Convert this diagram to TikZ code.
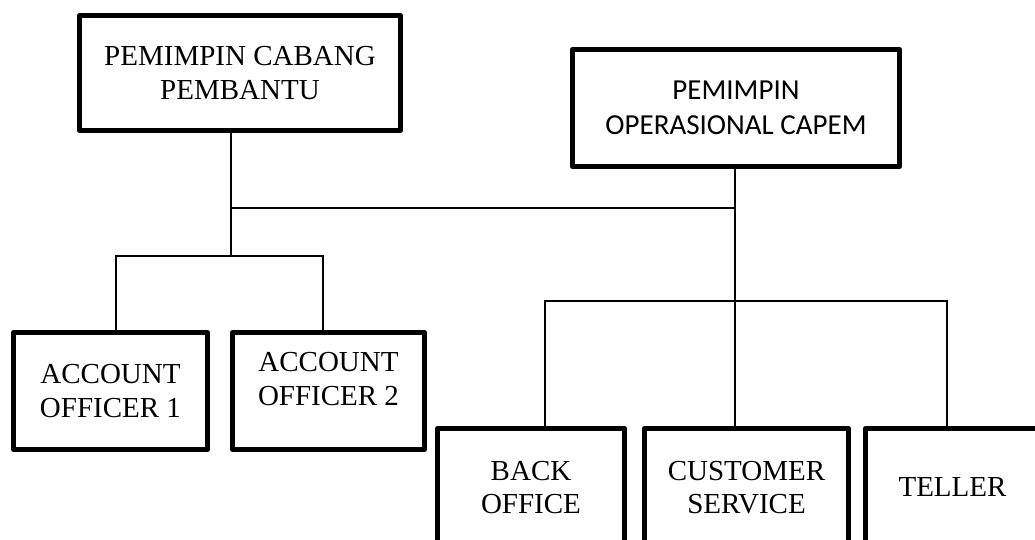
\documentclass[tikz,border=0pt]{standalone}
\usepackage{fontspec}
\setmainfont{Liberation Serif}
\newfontfamily\headsans{Carlito}
\begin{document}
\begin{tikzpicture}[x=1pt,y=-1pt,
  unitbox/.style={draw, line width=5pt, line join=round, rectangle, inner sep=0pt,
    align=center, font=\fontsize{29}{33.5}\selectfont},
  sansbox/.style={unitbox, font=\headsans\fontsize{29}{35}\selectfont},
  link/.style={line width=1.6pt, line join=miter}]
\useasboundingbox (0,0) rectangle (1035,540);
\clip (0,0) rectangle (1035,540);

% junction points of the connectors
\coordinate (j1) at (231,208);
\coordinate (j2) at (735,208);
\coordinate (j3) at (231,256);
\coordinate (k1) at (116,256);
\coordinate (k2) at (323,256);
\coordinate (m1) at (545,301);
\coordinate (m2) at (947,301);

% top level
\node[unitbox, minimum width=321pt, minimum height=115pt] (cab) at (240,73)
  {PEMIMPIN CABANG\\PEMBANTU};
\node[sansbox, minimum width=327pt, minimum height=117pt] (ops) at (736,108)
  {PEMIMPIN\\OPERASIONAL CAPEM};

% account officers
\node[unitbox, minimum width=194pt, minimum height=117pt] (ao1) at (110.5,391)
  {ACCOUNT\\OFFICER 1};
\node[unitbox, minimum width=192pt, minimum height=117pt,
  label={[align=center, font=\fontsize{29}{33.5}\selectfont, yshift=12pt]center:ACCOUNT\\OFFICER 2}]
  (ao2) at (328.5,391) {};

% operational staff
\node[unitbox, minimum width=187pt, minimum height=118pt] (bo) at (531,487.5)
  {BACK\\OFFICE};
\node[unitbox, minimum width=204pt, minimum height=118pt] (cs) at (746.5,487.5)
  {CUSTOMER\\SERVICE};
\node[unitbox, minimum width=174pt, minimum height=118pt] (tel) at (952.5,487.5)
  {TELLER};

% connectors
\draw[link] (cab.south -| j1) -- (j1) -- (j2);
\draw[link] (ops.south -| j2) -- (j2) -- (j2 |- cs.north);
\draw[link] (j1) -- (j3);
\draw[link] (ao1.north -| k1) -- (k1) -- (k2) -- (ao2.north -| k2);
\draw[link] (bo.north -| m1) -- (m1) -- (m2) -- (tel.north -| m2);
\end{tikzpicture}
\end{document}
